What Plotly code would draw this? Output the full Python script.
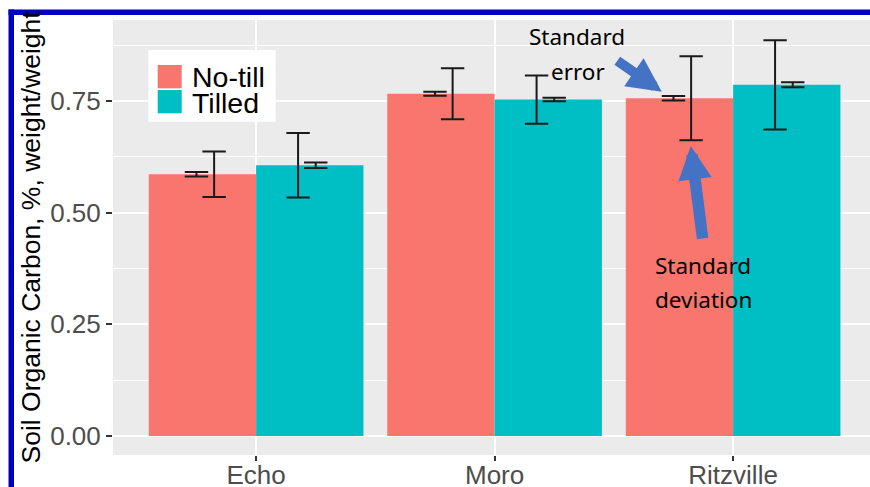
import plotly.graph_objects as go

# ---------------- data ----------------
sites = ["Echo", "Moro", "Ritzville"]
notill_mean = [0.586, 0.766, 0.756]
tilled_mean = [0.606, 0.753, 0.786]
notill_sd = [0.051, 0.057, 0.094]
tilled_sd = [0.072, 0.054, 0.100]
notill_se = [0.005, 0.0045, 0.005]
tilled_se = [0.006, 0.004, 0.0055]
y_ticks = [0.0, 0.25, 0.5, 0.75]
y_tick_labels = ["0.00", "0.25", "0.50", "0.75"]

RED = "#F8766D"
TEAL = "#00BFC4"
BLUE_ARROW = "#4472C4"
FRAME = "#0000C0"

# plot-area geometry (pixels)
W_FIG, H_FIG = 870, 487
L, R, T, B = 113, 870, 20, 455


def px(x):
    return (x - L) / (R - L)


def py(y):
    return (B - y) / (B - T)


xpos = list(range(len(sites)))
SD_DODGE = 0.176
SE_DODGE = 0.25

fig = go.Figure()
fig.add_trace(go.Bar(x=xpos, y=notill_mean, name="No-till", marker=dict(color=RED, line=dict(width=0))))
fig.add_trace(go.Bar(x=xpos, y=tilled_mean, name="Tilled", marker=dict(color=TEAL, line=dict(width=0))))


def err_trace(xs, ys, errs):
    return go.Scatter(
        x=xs, y=ys, mode="markers", showlegend=False, hoverinfo="skip",
        marker=dict(size=1, opacity=0),
        error_y=dict(type="data", array=errs, symmetric=True, color="#1A1A1A", thickness=2, width=11.7),
    )


fig.add_trace(err_trace([i - SD_DODGE for i in xpos], notill_mean, notill_sd))
fig.add_trace(err_trace([i + SD_DODGE for i in xpos], tilled_mean, tilled_sd))
fig.add_trace(err_trace([i - SE_DODGE for i in xpos], notill_mean, notill_se))
fig.add_trace(err_trace([i + SE_DODGE for i in xpos], tilled_mean, tilled_se))

axis_font = dict(family="Liberation Sans, Arial, sans-serif", size=26, color="#4D4D4D")

fig.update_layout(
    width=W_FIG, height=H_FIG,
    margin=dict(l=L, r=W_FIG - R, t=T, b=H_FIG - B, pad=0),
    paper_bgcolor="white", plot_bgcolor="#EBEBEB",
    barmode="group", bargap=0.1, bargroupgap=0,
    showlegend=False,
    xaxis=dict(
        range=[-0.6, -0.6 + (R - L) / 238.5],
        tickmode="array", tickvals=xpos, ticktext=sites,
        showgrid=True, gridcolor="white", gridwidth=1.8,
        ticks="outside", ticklen=5, tickwidth=1.5, tickcolor="#333333",
        tickfont=axis_font, zeroline=False, showline=False, automargin=False,
        ticklabelstandoff=-8,
    ),
    yaxis=dict(
        range=[-(B - 436) / 446.8, (436 - T) / 446.8],
        tickmode="array", tickvals=y_ticks, ticktext=y_tick_labels,
        showgrid=True, gridcolor="white", gridwidth=1.8,
        minor=dict(dtick=0.125, tick0=0.125, showgrid=True, gridcolor="white", gridwidth=1.0, ticks=""),
        ticks="outside", ticklen=6, tickwidth=1.5, tickcolor="#333333",
        tickfont=axis_font, zeroline=False, showline=False, automargin=False,
    ),
)

# y axis title
fig.add_annotation(
    text="Soil Organic Carbon, %, weight/weight", textangle=-90,
    xref="paper", yref="paper", x=px(30.5), y=py(237), xanchor="center", yanchor="middle",
    showarrow=False, font=dict(family="Liberation Sans, Arial, sans-serif", size=26.5, color="black"),
)

# legend (custom, drawn like ggplot's inset legend)
shapes = [
    dict(type="rect", xref="paper", yref="paper", x0=px(148.3), x1=px(275.7), y0=py(121.7), y1=py(50),
         fillcolor="white", line=dict(width=0), layer="above"),
    dict(type="rect", xref="paper", yref="paper", x0=px(157.7), x1=px(181.7), y0=py(88.3), y1=py(65),
         fillcolor=RED, line=dict(width=0), layer="above"),
    dict(type="rect", xref="paper", yref="paper", x0=px(157.7), x1=px(181.7), y0=py(113.3), y1=py(90),
         fillcolor=TEAL, line=dict(width=0), layer="above"),
    # blue frame (top and left edges)
    dict(type="rect", xref="paper", yref="paper", x0=px(8.5), x1=px(W_FIG + 5), y0=py(15), y1=py(9.5),
         fillcolor=FRAME, line=dict(width=0), layer="above"),
    dict(type="rect", xref="paper", yref="paper", x0=px(8.5), x1=px(14), y0=py(H_FIG + 5), y1=py(9.5),
         fillcolor=FRAME, line=dict(width=0), layer="above"),
]
fig.update_layout(shapes=shapes)

leg_font = dict(family="Liberation Sans, Arial, sans-serif", size=28.5, color="black")
fig.add_annotation(text="No-till", xref="paper", yref="paper", x=px(190.5), y=py(77),
                   xanchor="left", yanchor="middle", showarrow=False, font=leg_font, borderpad=0)
fig.add_annotation(text="Tilled", xref="paper", yref="paper", x=px(190.5), y=py(102.6),
                   xanchor="left", yanchor="middle", showarrow=False, font=leg_font, borderpad=0)

# callout texts
call_font = dict(family="Noto Sans, Open Sans, sans-serif", size=22.5, color="black")


def dx(xp):
    return (xp - 256) / 238.5


def dy(yp):
    return (436 - yp) / 446.8


for txt, xp, yp in [("Standard", 576.5, 36.5), ("error", 577.5, 71.5),
                    ("Standard", 702.5, 265.5), ("deviation", 703, 299.5)]:
    fig.add_annotation(text=txt, x=dx(xp), y=dy(yp), xref="x", yref="y",
                       xanchor="center", yanchor="middle", showarrow=False, font=call_font)

# arrows
fig.add_annotation(x=dx(661.7), y=dy(91.7), xref="x", yref="y", ax=-46, ay=-32, axref="pixel", ayref="pixel",
                   text="", showarrow=True, arrowhead=2, arrowsize=0.68, arrowwidth=10, arrowcolor=BLUE_ARROW)
fig.add_annotation(x=dx(690.7), y=dy(146), xref="x", yref="y", ax=12, ay=94, axref="pixel", ayref="pixel",
                   text="", showarrow=True, arrowhead=2, arrowsize=0.58, arrowwidth=11.5, arrowcolor=BLUE_ARROW)

fig.write_html(
    "out.html",
    config={"displayModeBar": False},
    post_script="document.body.style.margin='0';document.body.style.overflow='hidden';",
)
